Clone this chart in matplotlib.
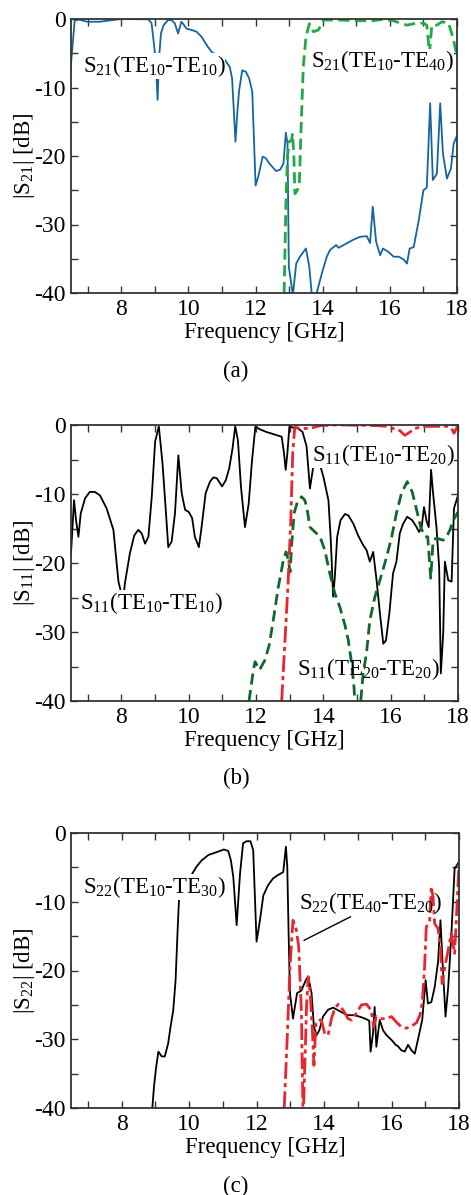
import matplotlib
matplotlib.use("Agg")
import matplotlib.pyplot as plt

plt.rcParams['font.family'] = ['Liberation Serif', 'DejaVu Serif']
plt.rcParams['mathtext.fontset'] = 'custom'
plt.rcParams['mathtext.rm'] = 'Liberation Serif'
plt.rcParams['mathtext.it'] = 'Liberation Serif:italic'
plt.rcParams['axes.unicode_minus'] = False
plt.rcParams['font.size'] = 16.5

# ---- (a) |S21| ----
a_f_1010 = [6.48, 6.61, 6.75, 6.98, 7.35, 8.0, 8.8, 8.9, 8.97, 9.03, 9.08, 9.12, 9.18, 9.26,
            9.39, 9.49, 9.59, 9.69, 9.79, 9.84, 9.94, 10.09, 10.24, 10.39, 10.54, 10.69,
            10.84, 10.94, 11.06, 11.23, 11.3, 11.4, 11.46, 11.51, 11.6, 11.71, 11.81, 11.9,
            12.0, 12.08, 12.21, 12.3, 12.41, 12.61, 12.73, 12.83, 12.9, 12.95, 12.99, 13.11,
            13.21, 13.32, 13.5, 13.6, 13.67, 13.75, 13.82, 13.97, 14.12, 14.22, 14.4, 14.47,
            14.62, 14.92, 15.11, 15.31, 15.41, 15.49, 15.59, 15.71, 15.79, 15.96, 16.11,
            16.26, 16.41, 16.51, 16.59, 16.71, 16.86, 17.0, 17.1, 17.2, 17.28, 17.4, 17.5,
            17.58, 17.7, 17.82, 17.9, 18.0]
a_s_1010 = [-7.7, -0.2, -0.1, -0.4, -0.4, 0.0, -0.05, -0.6, -3.6, -6.5, -11.8, -6.0, -2.1, -0.9,
            -0.15, -0.15, -0.6, -2.1, -0.4, -0.7, -1.4, -1.6, -1.85, -2.6, -3.8, -4.8,
            -5.3, -5.5, -5.8, -7.0, -8.7, -17.9, -13.3, -10.4, -7.5, -7.7, -8.7, -10.6,
            -24.3, -23.0, -20.1, -20.3, -21.1, -22.2, -22.0, -21.1, -16.6, -18.2, -36.2, -40.3,
            -35.7, -34.7, -33.5, -36.2, -40.0, -42.0, -40.0, -37.2, -34.7, -33.7, -33.0, -33.4,
            -33.0, -32.2, -31.8, -31.7, -32.7, -27.4, -32.5, -34.5, -33.5, -34.0, -34.7,
            -34.7, -35.1, -35.7, -33.5, -33.3, -29.4, -25.0, -24.6, -12.3, -23.5, -22.6, -12.3,
            -19.6, -23.3, -21.8, -18.2, -17.0]

a_f_1040 = [12.85, 12.9, 12.95, 13.0, 13.07, 13.1, 13.14, 13.17, 13.22, 13.3, 13.35, 13.42,
            13.5, 13.6, 13.72, 13.87, 14.02, 14.5, 15.0, 15.5, 15.8, 16.1, 16.31, 16.51,
            16.8, 17.0, 17.1, 17.18, 17.25, 17.4, 17.55, 17.75, 17.9, 18.0]
a_s_1040 = [-40.0, -27.4, -20.1, -17.9, -17.7, -16.7, -20.0, -25.5, -25.2, -24.3, -16.7, -7.0,
            -2.6, -0.7, -1.85, -1.6, -0.15, -0.15, -0.25, -0.25, -0.05, -0.25, -0.6, -0.9,
            -0.6, -0.6, -0.9, -5.0, -0.9, -0.9, -0.4, -0.6, -3.1, -5.5]

# ---- (b) |S11| ----
b_f_1010 = [6.5, 6.59, 6.65, 6.72, 6.79, 6.92, 7.06, 7.21, 7.36, 7.56, 7.76, 7.91, 8.05, 8.1,
            8.25, 8.38, 8.5, 8.6, 8.7, 8.8, 8.9, 9.0, 9.11, 9.22, 9.31, 9.39, 9.49, 9.59,
            9.69, 9.79, 9.89, 10.0, 10.1, 10.18, 10.3, 10.38, 10.5, 10.63, 10.73, 10.83,
            10.99, 11.1, 11.2, 11.3, 11.38, 11.46, 11.55, 11.67, 11.78, 11.88, 11.98, 12.1,
            12.3, 12.5, 12.76, 12.83, 12.88, 12.93, 12.99, 13.1, 13.25, 13.38, 13.5, 13.6,
            13.7, 13.8, 13.9, 14.0, 14.15, 14.22, 14.29, 14.34, 14.41, 14.51, 14.64, 14.74,
            14.89, 15.03, 15.18, 15.28, 15.38, 15.48, 15.58, 15.68, 15.78, 15.86, 15.96,
            16.07, 16.17, 16.27, 16.37, 16.49, 16.64, 16.77, 16.84, 16.92, 16.99, 17.07,
            17.13, 17.2, 17.26, 17.36, 17.44, 17.49, 17.56, 17.61, 17.71, 17.81, 17.88, 18.0]
b_s_1010 = [-18.6, -10.9, -13.8, -16.2, -12.8, -10.6, -9.7, -9.7, -10.2, -12.1, -15.2, -22.7, -25.5, -23.0,
            -18.6, -16.0, -15.2, -15.7, -17.2, -16.2, -10.4, -2.4, -0.2, -5.6, -11.9, -17.7, -16.9, -12.8,
            -4.4, -9.9, -12.3, -12.6, -13.5, -16.2, -17.7, -14.8, -9.9, -8.2, -7.6, -7.7,
            -8.9, -8.0, -6.3, -3.4, -0.2, -2.2, -8.9, -14.8, -11.4, -5.1, -0.2, -0.6,
            -1.0, -1.3, -1.7, -4.1, -6.5, -4.1, -0.2, -0.4, -0.5, -1.0, -3.1, -9.2,
            -6.0, -5.5, -5.8, -7.5, -10.9, -16.7, -24.9, -22.0, -16.2, -13.8, -12.9, -13.1,
            -14.3, -16.0, -17.4, -18.1, -19.8, -18.4, -22.5, -27.3, -31.7, -31.2, -27.3,
            -21.5, -19.8, -15.7, -14.3, -13.3, -13.8, -14.8, -15.5, -14.8, -11.9, -14.0,
            -14.8, -6.5, -9.9, -14.8, -20.6, -36.0, -30.2, -19.8, -22.5, -22.7, -12.1, -10.2]

b_f_1020 = [12.76, 12.85, 12.95, 13.03, 13.09, 13.15, 13.3, 13.6, 13.9, 14.3, 14.7, 15.0,
            15.3, 15.6, 15.9, 16.07, 16.27, 16.42, 16.55, 16.71, 17.0, 17.3, 17.7, 17.81,
            17.88, 17.94, 18.0]
b_s_1020 = [-40.0, -32.0, -23.0, -14.0, -4.0, -0.3, -0.5, -0.5, -0.1, 0.0, 0.0, -0.05,
            -0.05, -0.1, -0.2, -0.5, -0.8, -1.5, -1.1, -0.5, -0.2, -0.2, -0.2, -0.5,
            -1.2, -0.6, -0.2]

b_f_2020 = [11.79, 11.92, 11.97, 12.1, 12.26, 12.39, 12.51, 12.66, 12.81, 12.89, 12.96, 13.01,
            13.06, 13.13, 13.23, 13.35, 13.45, 13.52, 13.6, 13.75, 13.9, 14.04, 14.19, 14.34,
            14.49, 14.64, 14.74, 14.84, 14.91, 15.0, 15.11, 15.18, 15.28, 15.38, 15.53,
            15.68, 15.88, 16.03, 16.17, 16.32, 16.49, 16.64, 16.77, 16.89, 17.02, 17.1,
            17.19, 17.26, 17.36, 17.56, 17.66, 17.76, 17.86, 18.0]
b_s_2020 = [-40.0, -35.5, -34.3, -35.5, -34.1, -31.9, -28.3, -23.5, -19.6, -18.4, -19.6, -21.3,
            -17.2, -12.8, -11.1, -10.4, -10.9, -12.3, -14.8, -15.5, -16.2, -18.1, -21.5, -24.4,
            -26.4, -29.0, -31.2, -34.6, -38.0, -46.0, -40.0, -36.0, -33.1, -28.3, -24.9,
            -22.5, -19.1, -16.2, -12.8, -9.9, -8.2, -9.7, -12.3, -14.8, -16.2, -16.2,
            -22.2, -16.7, -16.4, -16.7, -16.2, -15.2, -13.8, -12.6]

# ---- (c) |S22| ----
c_f_1030 = [8.91, 8.96, 9.02, 9.09, 9.19, 9.28, 9.38, 9.45, 9.53, 9.6, 9.66, 9.7, 9.96, 10.22,
            10.37, 10.57, 10.81, 11.03, 11.16, 11.24, 11.31, 11.41, 11.51, 11.6, 11.7, 11.82,
            11.9, 12.0, 12.1, 12.2, 12.34, 12.49, 12.64, 12.79, 12.87, 12.91, 12.95, 12.99,
            13.08, 13.2, 13.33, 13.46, 13.53, 13.63, 13.7, 13.78, 13.86, 13.97, 14.12, 14.27,
            14.42, 14.57, 14.71, 14.91, 15.11, 15.26, 15.34, 15.38, 15.45, 15.5, 15.55, 15.65,
            15.75, 15.85, 16.0, 16.12, 16.19, 16.29, 16.39, 16.49, 16.59, 16.69, 16.79, 16.91,
            17.01, 17.08, 17.18, 17.28, 17.38, 17.45, 17.53, 17.6, 17.68, 17.77, 17.87, 18.0]
c_s_1030 = [-40.0, -36.9, -34.2, -31.8, -32.5, -32.5, -30.6, -28.2, -25.8, -21.4, -14.1, -9.8, -7.0, -4.9,
            -4.0, -3.2, -2.8, -2.4, -2.6, -4.0, -6.4, -13.4, -5.9, -1.5, -1.2, -1.2,
            -2.5, -15.8, -12.7, -9.1, -7.6, -6.6, -6.1, -5.7, -2.0, -4.9, -14.6, -23.3,
            -27.0, -23.3, -22.9, -21.4, -20.9, -23.3, -28.2, -29.4, -28.7, -26.7, -25.7, -25.4,
            -25.8, -26.2, -26.5, -26.5, -26.8, -27.1, -27.3, -31.8, -29.2, -25.3, -31.1, -27.2,
            -28.7, -29.4, -30.1, -30.8, -31.0, -31.6, -31.8, -30.8, -31.6, -32.1, -29.9, -27.2,
            -21.4, -24.8, -24.6, -22.4, -18.7, -12.7, -20.4, -26.7, -22.4, -15.1, -5.2, -4.2]

c_f_4020 = [12.82, 12.91, 12.99, 13.08, 13.18, 13.25, 13.33, 13.38, 13.43, 13.48, 13.53, 13.59,
            13.66, 13.7, 13.76, 13.83, 13.92, 14.02, 14.12, 14.22, 14.32, 14.42, 14.57, 14.71,
            14.81, 14.96, 15.11, 15.26, 15.4, 15.47, 15.55, 15.7, 15.85, 16.0, 16.14, 16.29,
            16.44, 16.59, 16.74, 16.84, 16.91, 16.98, 17.03, 17.13, 17.18, 17.23, 17.28, 17.38,
            17.45, 17.5, 17.58, 17.68, 17.77, 17.87, 17.92, 18.0]
c_s_4020 = [-40.0, -29.6, -19.5, -12.7, -14.1, -16.6, -26.2, -42.0, -34.0, -25.3, -20.9, -23.3,
            -29.2, -33.8, -27.7, -27.2, -27.2, -29.2, -29.4, -27.0, -25.5, -24.9, -25.8, -27.0,
            -27.2, -26.2, -25.0, -24.9, -25.8, -28.2, -26.7, -27.0, -27.0, -26.7, -27.5, -28.2,
            -28.4, -28.1, -27.6, -26.5, -24.8, -19.5, -13.7, -12.7, -7.8, -9.3, -13.2, -13.9,
            -16.6, -21.9, -19.5, -17.0, -14.6, -17.5, -12.7, -4.5]

xlim = (6.5, 18)
ylim = (-40, 0)
W, H = 471, 1195
box = dict(facecolor='white', edgecolor='none', pad=0)


def setup(ax, ylab):
    ax.set_xlim(*xlim)
    ax.set_ylim(*ylim)
    ax.set_xticks([8, 10, 12, 14, 16, 18])
    ax.set_xticks([7, 9, 11, 13, 15, 17], minor=True)
    ax.set_yticks([0, -10, -20, -30, -40])
    ax.set_yticks([-5, -15, -25, -35], minor=True)
    ax.tick_params(which='both', direction='in', top=True, right=True,
                   length=5, width=1.0, color='#333333', labelsize=17, pad=4)
    for s in ax.spines.values():
        s.set_linewidth(1.3)
        s.set_color('#333333')
    ax.set_xlabel('Frequency [GHz]', fontsize=16.5, labelpad=2)
    ax.set_ylabel(ylab, fontsize=16.5)
    ax.yaxis.set_label_coords(-0.088, 0.5)


def rect(left, top, right, bottom):
    return [left / W, 1 - bottom / H, (right - left) / W, (bottom - top) / H]


fig = plt.figure(figsize=(W / 100, H / 100), dpi=100)

ax1 = fig.add_axes(rect(71, 19, 457, 293))
ax1.plot(a_f_1010, a_s_1010, color='#1565a0', lw=1.3)
ax1.plot(a_f_1040, a_s_1040, color='#22a845', lw=2.0, ls=(0, (4, 2)))
ax1.text(6.85, -6.9, r'S$_{21}$(TE$_{10}$-TE$_{10}$)', fontsize=16.5, va='center', bbox=box)
ax1.text(13.65, -6.2, r'S$_{21}$(TE$_{10}$-TE$_{40}$)', fontsize=16.5, va='center', bbox=box)
setup(ax1, r'|S$_{21}$| [dB]')

ax2 = fig.add_axes(rect(71, 425, 458, 701))
ax2.plot(b_f_1010, b_s_1010, color='black', lw=1.3)
ax2.plot(b_f_2020, b_s_2020, color='#11672c', lw=2.0, ls=(0, (4, 2)))
ax2.plot(b_f_1020, b_s_1020, color='#e8262c', lw=2.0, ls=(0, (6, 1.5, 1.5, 1.5)))
ax2.text(6.77, -25.8, r'S$_{11}$(TE$_{10}$-TE$_{10}$)', fontsize=16.5, va='center', bbox=box)
ax2.text(13.65, -4.3, r'S$_{11}$(TE$_{10}$-TE$_{20}$)', fontsize=16.5, va='center', bbox=box)
ax2.text(13.23, -35.4, r'S$_{11}$(TE$_{20}$-TE$_{20}$)', fontsize=16.5, va='center')
setup(ax2, r'|S$_{11}$| [dB]')

ax3 = fig.add_axes(rect(71, 833, 459, 1108))
ax3.plot(c_f_1030, c_s_1030, color='black', lw=1.3)
ax3.plot(c_f_4020, c_s_4020, color='#e8262c', lw=2.0, ls=(0, (6, 1.5, 1.5, 1.5)))
ax3.text(6.85, -7.8, r'S$_{22}$(TE$_{10}$-TE$_{30}$)', fontsize=16.5, va='center', bbox=box)
ax3.text(13.25, -10.2, r'S$_{22}$(TE$_{40}$-TE$_{20}$)', fontsize=16.5, va='center')
ax3.annotate('', xy=(13.33, -15.8), xytext=(14.86, -12.0),
             arrowprops=dict(arrowstyle='-', color='black', lw=1.0))
setup(ax3, r'|S$_{22}$| [dB]')

for lab, y in [('(a)', 371), ('(b)', 778), ('(c)', 1186)]:
    fig.text(236 / W, 1 - y / H, lab, fontsize=16.5, ha='center', va='center')

fig.savefig('out.png', dpi=100)
